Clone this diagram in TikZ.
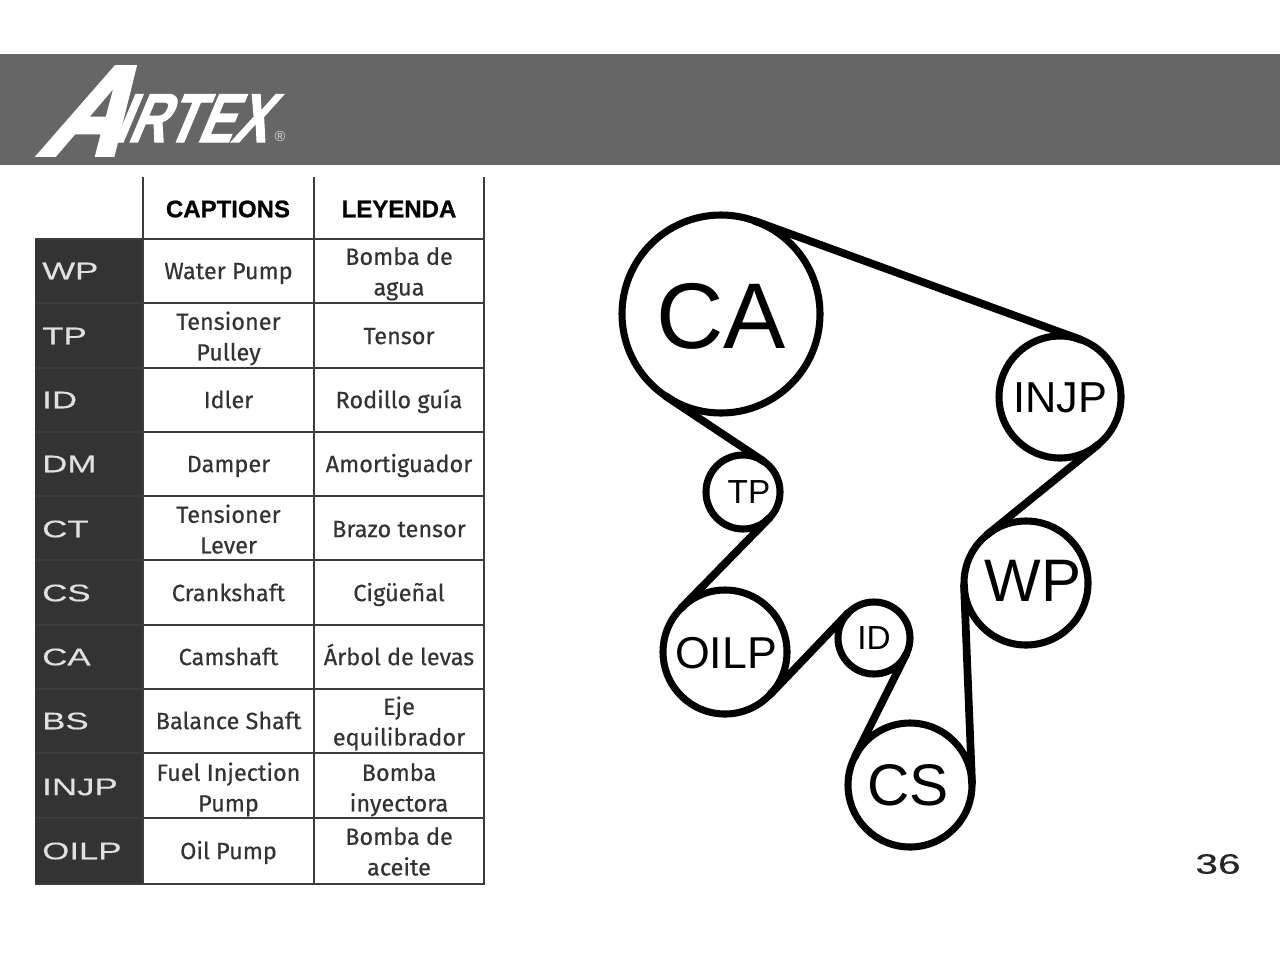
\documentclass[tikz,border=0pt]{standalone}
\usepackage{fontspec}
\setmainfont{Liberation Sans}
\newfontfamily\bodyf[FakeBold=0.4]{Fira Sans}
\newfontfamily\widef[FakeStretch=1.45,FakeBold=0.3]{Liberation Sans}
\newfontfamily\headf[FakeBold=0.8]{Liberation Sans Bold}
\newfontfamily\logof[FakeSlant=0.42,FakeStretch=0.75,FakeBold=1.5]{Liberation Sans Bold}
\newfontfamily\logoA[FakeSlant=0.56,FakeStretch=0.86,FakeBold=3]{Liberation Sans Bold}
\definecolor{tablegrey}{HTML}{3C3C3C}
\newcommand\lowertwo{\rule{0pt}{17.6pt}}
\tikzset{
  pulley/.style={circle,draw=black,line width=5.3pt,inner sep=0pt,outer sep=0pt,minimum size=#1*0.75pt},
  belt/.style={draw=black,line width=5.8pt,line cap=round},
  rule/.style={draw=tablegrey,line width=2.1pt},
  cell/.style={text=black!80,font=\bodyf\fontsize{17.6}{23}\selectfont,align=center,inner sep=0pt,
    execute at begin node=\strut,execute at end node=\strut,yshift=-1.5pt},
  headcell/.style={text=black,font=\headf\fontsize{18}{20}\selectfont,inner sep=0pt},
  code/.style={text=white!88!black,font=\widef\fontsize{18}{20}\selectfont,anchor=west,inner sep=0pt},
  lab/.style={text=black,inner sep=0pt},
}
\begin{document}
\begin{tikzpicture}[x=0.75pt,y=-0.75pt]
\useasboundingbox (0,0) rectangle (1280,960);
\fill[white] (0,0) rectangle (1280,960);
\fill[black!60] (0,54) rectangle (1280,165);
% logo
\node[text=white,inner sep=0pt,anchor=base west,font=\logoA\fontsize{96}{96}\selectfont] (logoa) at (36,155) {A};
\node[text=white,inner sep=0pt,anchor=base west,font=\logof\fontsize{52}{52}\selectfont] (logob) at (112,142) {IRTEX};
\node[text=white!85!black,inner sep=0pt,font=\fontsize{11}{11}\selectfont] (logoc) at (280,136) {®};
% table
\fill[black!80] (35,239) rectangle (143,884);
\foreach \y in {239,303,368,432,496,560,625,689,753,818,884}
  \draw[rule] (35,\y) -- (484,\y);
\foreach \x in {143,314,484}
  \draw[rule] (\x,177) -- (\x,885);
\node[headcell] (h1) at (228,209) {CAPTIONS};
\node[headcell] (h2) at (399,209) {LEYENDA};
\foreach \c/\y/\a/\b in {
 WP/271/Water Pump/{\lowertwo Bomba de\\agua},
 TP/336/{\lowertwo Tensioner\\Pulley}/Tensor,
 ID/400/Idler/Rodillo guía,
 DM/464/Damper/Amortiguador,
 CT/529/{\lowertwo Tensioner\\Lever}/Brazo tensor,
 CS/593/Crankshaft/Cigüeñal,
 CA/657/Camshaft/Árbol de levas,
 BS/721/Balance Shaft/{\lowertwo Eje\\equilibrador},
 INJP/787/{\lowertwo Fuel Injection\\Pump}/{\lowertwo Bomba\\inyectora},
 OILP/851/Oil Pump/{\lowertwo Bomba de\\aceite}}{
  \node[code] (k\c) at (42,\y) {\c};
  \node[cell] (a\c) at (228.5,\y) {\a};
  \node[cell] (b\c) at (399,\y) {\b};
}
% pulleys
\node[pulley=198] (CA) at (721,314) {};
\node[pulley=122] (INJP) at (1060,397) {};
\node[pulley=74] (TP) at (743,492) {};
\node[pulley=124] (WP) at (1026,583) {};
\node[pulley=124] (OILP) at (725,652) {};
\node[pulley=72] (ID) at (874,638) {};
\node[pulley=124] (CS) at (910,785) {};
\node[lab,font=\fontsize{70}{70}\selectfont] (tCA) at (721,316) {CA};
\node[lab,font=\fontsize{32.5}{33}\selectfont] (tINJP) at (1060,398) {INJP};
\node[lab,font=\fontsize{25}{25}\selectfont] (tTP) at (749,492) {TP};
\node[lab,font=\fontsize{45}{45}\selectfont] (tWP) at (1033,581) {WP};
\node[lab,font=\fontsize{33.5}{34}\selectfont] (tOILP) at (726,653) {OILP};
\node[lab,font=\fontsize{25}{25}\selectfont] (tID) at (874,638) {ID};
\node[lab,font=\fontsize{44}{44}\selectfont] (tCS) at (908,785) {CS};
% belt
\draw[belt] (CA.70) -- (INJP.70);
\draw[belt] (CA.236.3) -- (TP.56.3);
\draw[belt] (TP.-44.4) -- (OILP.135.6);
\draw[belt] (OILP.-43.7) -- (ID.136.3);
\draw[belt] (ID.-26.6) -- (CS.153.4);
\draw[belt] (CS.2.2) -- (WP.182.2);
\draw[belt] (WP.129) -- (INJP.-51);
\node[text=black!85,inner sep=0pt,font=\widef\fontsize{21}{21}\selectfont] (page) at (1218,864) {36};
\end{tikzpicture}
\end{document}
